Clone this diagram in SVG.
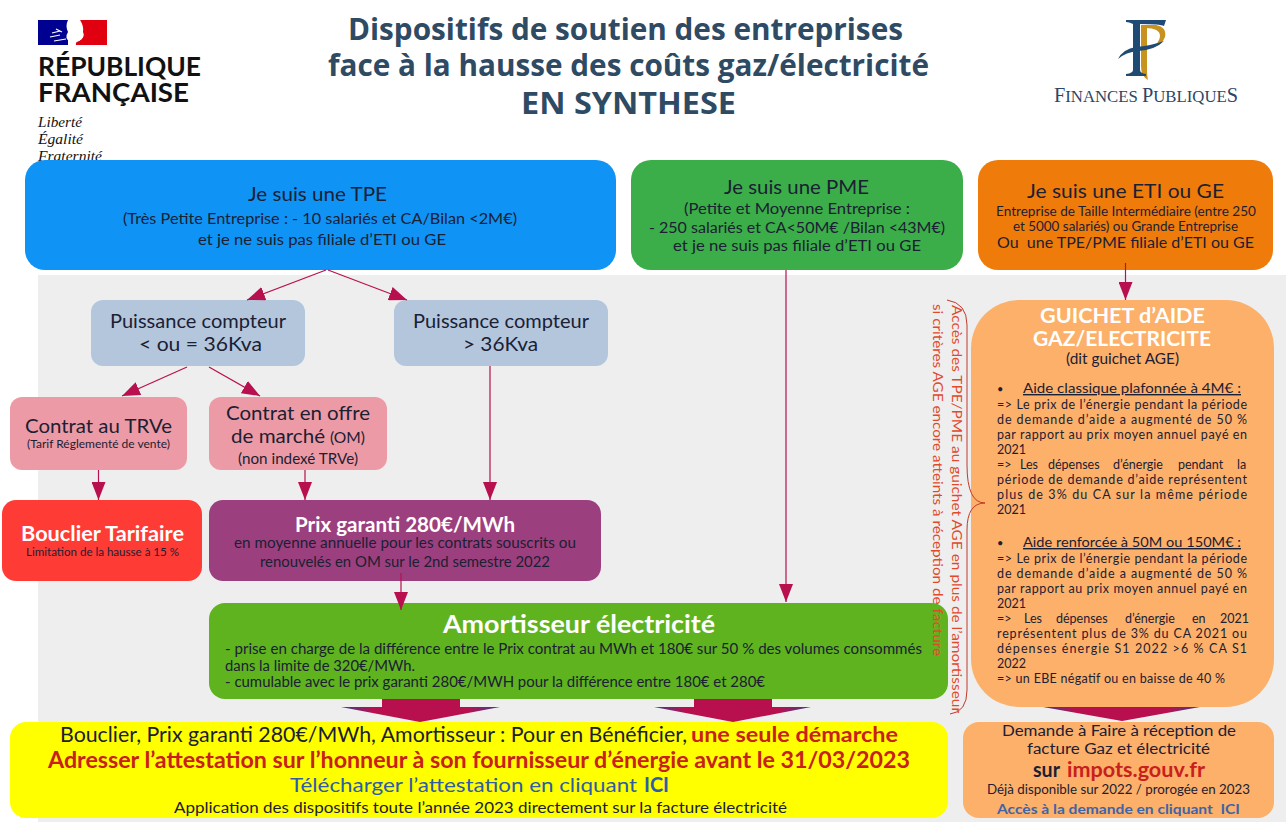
<svg xmlns="http://www.w3.org/2000/svg" width="1286" height="839" viewBox="0 0 1286 839">
<style>
text{font-family:"Lato","Noto Sans","Liberation Sans",sans-serif;fill:#1b2033;white-space:pre}
.title{font-family:"Open Sans","Liberation Sans",sans-serif;font-weight:700;font-size:30px;fill:#2f4a63}
.rf{font-weight:700;font-size:26px;fill:#111}
.dev{font-family:"Liberation Serif",serif;font-style:italic;font-size:14px;fill:#111}
.fp{font-family:"Liberation Serif",serif;fill:#2e4565}
.h1{font-size:20px}.h2{font-size:19px}.s{font-size:14.5px}.xs{font-size:11.5px}.m{font-size:13px}
.b{font-weight:700}.w{fill:#fff}.r{fill:#c8201c}.bl{fill:#2e5ca8}
.j{font-size:12.5px}.u{text-decoration:underline;font-size:14px}.dot{font-size:11px}
.v{font-size:14px;fill:#e2492a}
.c{fill:none;stroke:#b8104f;stroke-width:1.2;marker-end:url(#ah)}
</style>
<defs>
<marker id="ah" markerUnits="userSpaceOnUse" markerWidth="18" markerHeight="14" refX="18" refY="7" orient="auto"><path d="M0,0 L18,7 L0,14 z" fill="#b8104f"/></marker>
<linearGradient id="wa" x1="0" x2="1" y1="0" y2="0"><stop offset="0" stop-color="#3a3f8c"/><stop offset=".2" stop-color="#b8104f"/><stop offset=".8" stop-color="#b8104f"/><stop offset="1" stop-color="#3a3f8c"/></linearGradient>
</defs>
<rect width="1286" height="839" fill="#fff"/>
<rect x="38" y="275" width="1248" height="547" fill="#eeeeee"/>

<g id="logo-rf">
<rect x="38" y="20" width="30" height="25" fill="#000091"/>
<path d="M80,20 H107 V45 H76 Q75,42 79,41 Q85,38 83,32 Z" fill="#e1000f"/>
<path d="M68,20 H80 Q84,26 83,32 Q85,38 79,41 L70,42 Q64,38 68,32 Q65,26 68,20 Z" fill="#fff"/>
<path d="M52,33 L60,31 M50,37 L60,35 M54,41 L66,39 M56,29 L62,32" stroke="#fff" stroke-width="1.2" fill="none"/>
<text class="rf" x="38" y="76" textLength="163" lengthAdjust="spacingAndGlyphs">RÉPUBLIQUE</text>
<text class="rf" x="38" y="102" textLength="151" lengthAdjust="spacingAndGlyphs">FRANÇAISE</text>
<text class="dev" x="38" y="127" textLength="44" lengthAdjust="spacingAndGlyphs">Liberté</text>
<text class="dev" x="38" y="144" textLength="45" lengthAdjust="spacingAndGlyphs">Égalité</text>
<text class="dev" x="38" y="161" textLength="64" lengthAdjust="spacingAndGlyphs">Fraternité</text>
</g>

<g id="title">
<text class="title" x="348" y="40" textLength="555" lengthAdjust="spacingAndGlyphs">Dispositifs de soutien des entreprises</text>
<text class="title" x="328" y="76" textLength="601" lengthAdjust="spacingAndGlyphs">face à la hausse des coûts gaz/électricité</text>
<text class="title" x="521" y="114" textLength="215" lengthAdjust="spacingAndGlyphs">EN SYNTHESE</text>
</g>

<g id="logo-fp">
<path d="M1141,25 H1147 V68 Q1147,76 1148,80 Q1141,76 1141,66 Z" fill="#c8921e"/>
<path d="M1145,25 H1156 Q1167,27 1165,37 Q1162,46 1150,48 Q1160,43 1160,36 Q1160,28 1145,28 Z" fill="#c8921e"/>
<path d="M1126,20 H1166 L1164,26 Q1160,24 1140,24 V70 Q1140,73 1146,74 V76 H1126 V74 Q1133,73 1133,70 V24 Q1129,22 1126,22 Z" fill="#1f4a73"/>
<path d="M1118,59 Q1123,49 1136,47 Q1150,46 1164,41 Q1155,50 1138,51 Q1126,52 1118,59 Z" fill="#1f4a73"/>
<text class="fp" x="1054" y="102" font-size="20" textLength="184" lengthAdjust="spacingAndGlyphs"><tspan>F</tspan><tspan font-size="16.5">INANCES </tspan><tspan>P</tspan><tspan font-size="16.5">UBLIQUE</tspan><tspan>S</tspan></text>
</g>

<g id="tpe">
<rect x="25" y="160" width="591" height="110" rx="20" fill="#0f94f5"/>
<text class="h1" x="248" y="201" textLength="139" lengthAdjust="spacingAndGlyphs">Je suis une TPE</text>
<text class="s" x="123" y="224" textLength="394" lengthAdjust="spacingAndGlyphs">(Très Petite Entreprise : - 10 salariés et CA/Bilan &lt;2M€)</text>
<text class="s" x="198" y="245" textLength="248" lengthAdjust="spacingAndGlyphs">et je ne suis pas filiale d’ETI ou GE</text>
</g>
<g id="pme">
<rect x="631" y="160" width="332" height="110" rx="20" fill="#3cae49"/>
<text class="h1" x="724" y="194" textLength="145" lengthAdjust="spacingAndGlyphs">Je suis une PME</text>
<text class="s" x="684" y="214" textLength="226" lengthAdjust="spacingAndGlyphs">(Petite et Moyenne Entreprise :</text>
<text class="s" x="649" y="233" textLength="296" lengthAdjust="spacingAndGlyphs">- 250 salariés et CA&lt;50M€ /Bilan &lt;43M€)</text>
<text class="s" x="673" y="251" textLength="248" lengthAdjust="spacingAndGlyphs">et je ne suis pas filiale d’ETI ou GE</text>
</g>
<g id="eti">
<rect x="978" y="160" width="295" height="110" rx="20" fill="#ef7c0a"/>
<text class="h1" x="1027" y="198" textLength="197" lengthAdjust="spacingAndGlyphs">Je suis une ETI ou GE</text>
<text class="m" x="996" y="216" textLength="260" lengthAdjust="spacingAndGlyphs">Entreprise de Taille Intermédiaire (entre 250</text>
<text class="m" x="1013" y="231" textLength="225" lengthAdjust="spacingAndGlyphs">et 5000 salariés) ou Grande Entreprise</text>
<text class="s" x="997" y="248" textLength="257" lengthAdjust="spacingAndGlyphs">Ou  une TPE/PME filiale d’ETI ou GE</text>
</g>

<g id="puissance-1">
<rect x="91" y="300" width="214" height="66" rx="12" fill="#b3c6dc"/>
<text class="h2" x="110" y="328" textLength="176" lengthAdjust="spacingAndGlyphs">Puissance compteur</text>
<text class="h2" x="139" y="351" textLength="123" lengthAdjust="spacingAndGlyphs">&lt; ou = 36Kva</text>
</g>
<g id="puissance-2">
<rect x="394" y="300" width="214" height="66" rx="12" fill="#b3c6dc"/>
<text class="h2" x="413" y="328" textLength="176" lengthAdjust="spacingAndGlyphs">Puissance compteur</text>
<text class="h2" x="463" y="351" textLength="75" lengthAdjust="spacingAndGlyphs">&gt; 36Kva</text>
</g>
<g id="trve">
<rect x="10" y="397" width="177" height="73" rx="12" fill="#ec9ba6"/>
<text class="h2" x="25" y="433" textLength="147" lengthAdjust="spacingAndGlyphs">Contrat au TRVe</text>
<text class="xs" x="27" y="448" textLength="143" lengthAdjust="spacingAndGlyphs">(Tarif Réglementé de vente)</text>
</g>
<g id="offre">
<rect x="209" y="397" width="178" height="73" rx="12" fill="#ec9ba6"/>
<text class="h2" x="226" y="420" textLength="144" lengthAdjust="spacingAndGlyphs">Contrat en offre</text>
<text class="h2" x="231" y="443" textLength="94" lengthAdjust="spacingAndGlyphs">de marché</text>
<text class="s" x="330" y="443" textLength="35" lengthAdjust="spacingAndGlyphs">(OM)</text>
<text class="s" x="238" y="464" textLength="120" lengthAdjust="spacingAndGlyphs">(non indexé TRVe)</text>
</g>
<g id="bouclier">
<rect x="2" y="500" width="200" height="81" rx="14" fill="#ff3b35"/>
<text class="h1 b w" x="21" y="541" textLength="163" lengthAdjust="spacingAndGlyphs">Bouclier Tarifaire</text>
<text class="xs" x="26" y="556" textLength="153" lengthAdjust="spacingAndGlyphs">Limitation de la hausse à 15 %</text>
</g>
<g id="prix">
<rect x="209" y="500" width="392" height="81" rx="14" fill="#9c3f7e"/>
<text class="h1 b w" x="295" y="532" textLength="220" lengthAdjust="spacingAndGlyphs">Prix garanti 280€/MWh</text>
<text class="s" x="234" y="548" textLength="342" lengthAdjust="spacingAndGlyphs">en moyenne annuelle pour les contrats souscrits ou</text>
<text class="s" x="260" y="567" textLength="290" lengthAdjust="spacingAndGlyphs">renouvelés en OM sur le 2nd semestre 2022</text>
</g>
<g id="amortisseur">
<rect x="209" y="603" width="739" height="96" rx="16" fill="#5fb31f"/>
<text class="b w" font-size="24" x="443" y="633" textLength="272" lengthAdjust="spacingAndGlyphs">Amortisseur électricité</text>
<text class="s" x="225" y="654" textLength="697" lengthAdjust="spacingAndGlyphs">- prise en charge de la différence entre le Prix contrat au MWh et 180€ sur 50 % des volumes consommés</text>
<text class="s" x="225" y="671" textLength="190" lengthAdjust="spacingAndGlyphs">dans la limite de 320€/MWh.</text>
<text class="s" x="225" y="687" textLength="540" lengthAdjust="spacingAndGlyphs">- cumulable avec le prix garanti 280€/MWH pour la différence entre 180€ et 280€</text>
</g>
<g id="demarche">
<rect x="10" y="722" width="938" height="96" rx="16" fill="#ffff00"/>
<text font-size="21" x="60" y="742" textLength="627" lengthAdjust="spacingAndGlyphs">Bouclier, Prix garanti 280€/MWh, Amortisseur : Pour en Bénéficier,</text>
<text class="b r" font-size="21" x="691" y="742" textLength="207" lengthAdjust="spacingAndGlyphs">une seule démarche</text>
<text class="b r" font-size="22" x="48" y="768" textLength="862" lengthAdjust="spacingAndGlyphs">Adresser l’attestation sur l’honneur à son fournisseur d’énergie avant le 31/03/2023</text>
<text class="bl" font-size="20" x="290" y="792" textLength="347" lengthAdjust="spacingAndGlyphs">Télécharger l’attestation en cliquant</text>
<text class="bl b" font-size="20" x="644" y="792" textLength="25" lengthAdjust="spacingAndGlyphs">ICI</text>
<text class="s" x="174" y="813" textLength="613" lengthAdjust="spacingAndGlyphs">Application des dispositifs toute l’année 2023 directement sur la facture électricité</text>
</g>
<g id="guichet">
<rect x="971" y="300" width="303" height="407" rx="48" fill="#fdb069"/>
<text class="b w" font-size="21" x="1040" y="323" textLength="165" lengthAdjust="spacingAndGlyphs">GUICHET d’AIDE</text>
<text class="b w" font-size="21" x="1033" y="346" textLength="178" lengthAdjust="spacingAndGlyphs">GAZ/ELECTRICITE</text>
<text class="s" x="1066" y="364" textLength="113" lengthAdjust="spacingAndGlyphs">(dit guichet AGE)</text>
<text class="dot" x="997" y="393">•</text>
<text class="u" x="1023" y="393" textLength="218" lengthAdjust="spacingAndGlyphs">Aide classique plafonnée à 4M€ :</text>
<text class="j" x="997" y="409" textLength="250">=&gt; Le prix de l’énergie pendant la période</text>
<text class="j" x="997" y="424" textLength="250">de demande d’aide a augmenté de 50 %</text>
<text class="j" x="997" y="439" textLength="250">par rapport au prix moyen annuel payé en</text>
<text class="j" x="997" y="454">2021</text>
<text class="j" y="469"><tspan x="997">=&gt;</tspan><tspan x="1020">Les</tspan><tspan x="1048">dépenses</tspan><tspan x="1113">d’énergie</tspan><tspan x="1178">pendant</tspan><tspan x="1237">la</tspan></text>
<text class="j" x="997" y="484" textLength="250">période de demande d’aide représentent</text>
<text class="j" x="997" y="499" textLength="250">plus de 3% du CA sur la même période</text>
<text class="j" x="997" y="514">2021</text>
<text class="dot" x="997" y="547">•</text>
<text class="u" x="1023" y="547" textLength="218" lengthAdjust="spacingAndGlyphs">Aide renforcée à 50M ou 150M€ :</text>
<text class="j" x="997" y="563" textLength="250">=&gt; Le prix de l’énergie pendant la période</text>
<text class="j" x="997" y="578" textLength="250">de demande d’aide a augmenté de 50 %</text>
<text class="j" x="997" y="593" textLength="250">par rapport au prix moyen annuel payé en</text>
<text class="j" x="997" y="608">2021</text>
<text class="j" y="623"><tspan x="997">=&gt;</tspan><tspan x="1024">Les</tspan><tspan x="1056">dépenses</tspan><tspan x="1125">d’énergie</tspan><tspan x="1192">en</tspan><tspan x="1220">2021</tspan></text>
<text class="j" x="997" y="638" textLength="250">représentent plus de 3% du CA 2021 ou</text>
<text class="j" x="997" y="653" textLength="250">dépenses énergie S1 2022 &gt;6 % CA S1</text>
<text class="j" x="997" y="668">2022</text>
<text class="j" x="997" y="683" textLength="228">=&gt; un EBE négatif ou en baisse de 40 %</text>
</g>
<g id="demande">
<rect x="963" y="722" width="311" height="96" rx="16" fill="#fdb069"/>
<text class="s" x="1002" y="736" textLength="234" lengthAdjust="spacingAndGlyphs">Demande à Faire à réception de</text>
<text class="s" x="1027" y="754" textLength="183" lengthAdjust="spacingAndGlyphs">facture Gaz et électricité</text>
<text class="b" font-size="20" x="1033" y="777" textLength="27" lengthAdjust="spacingAndGlyphs">sur</text>
<text class="b r" font-size="20" x="1067" y="777" textLength="138" lengthAdjust="spacingAndGlyphs">impots.gouv.fr</text>
<text class="m" x="987" y="794" textLength="263" lengthAdjust="spacingAndGlyphs">Déjà disponible sur 2022 / prorogée en 2023</text>
<text class="m b" style="fill:#3f64a8" x="997" y="814" textLength="243" lengthAdjust="spacingAndGlyphs">Accès à la demande en cliquant  ICI</text>
</g>

<g id="connectors">
<path class="c" d="M326,270 L247,300"/>
<path class="c" d="M328,270 L407,300"/>
<path class="c" d="M187,367 L122,396"/>
<path class="c" d="M209,367 L260,396"/>
<path class="c" d="M98.500,470 V500"/>
<path class="c" d="M305,470 V500"/>
<path class="c" d="M490,366 V500"/>
<path class="c" d="M401,573 V610"/>
<path class="c" d="M786,270 V602"/>
<path class="c" d="M1125.500,263 V300"/>
<path d="M382,699 H460 V707 H500 L420,722 L341,707 H382 Z" fill="url(#wa)"/>
<path d="M694,699 H772 V707 H811 L733,722 L654,707 H694 Z" fill="url(#wa)"/>
<path d="M1043,707 H1200 L1122,721 Z" fill="url(#wa)"/>
</g>

<g id="note">
<text class="v" transform="translate(952,305) rotate(90)" textLength="408" lengthAdjust="spacingAndGlyphs">Accès des TPE/PME au guichet AGE en plus de l’amortisseur</text>
<text class="v" transform="translate(933,304) rotate(90)" textLength="352" lengthAdjust="spacingAndGlyphs">si critères AGE encore atteints à réception de facture</text>
<path d="M947,300 Q967,303 967,325 V465 Q967,503 985,503 Q967,503 967,530 V690 Q967,712 950,714" fill="none" stroke="#c0392b" stroke-width="1"/>
</g>
</svg>
